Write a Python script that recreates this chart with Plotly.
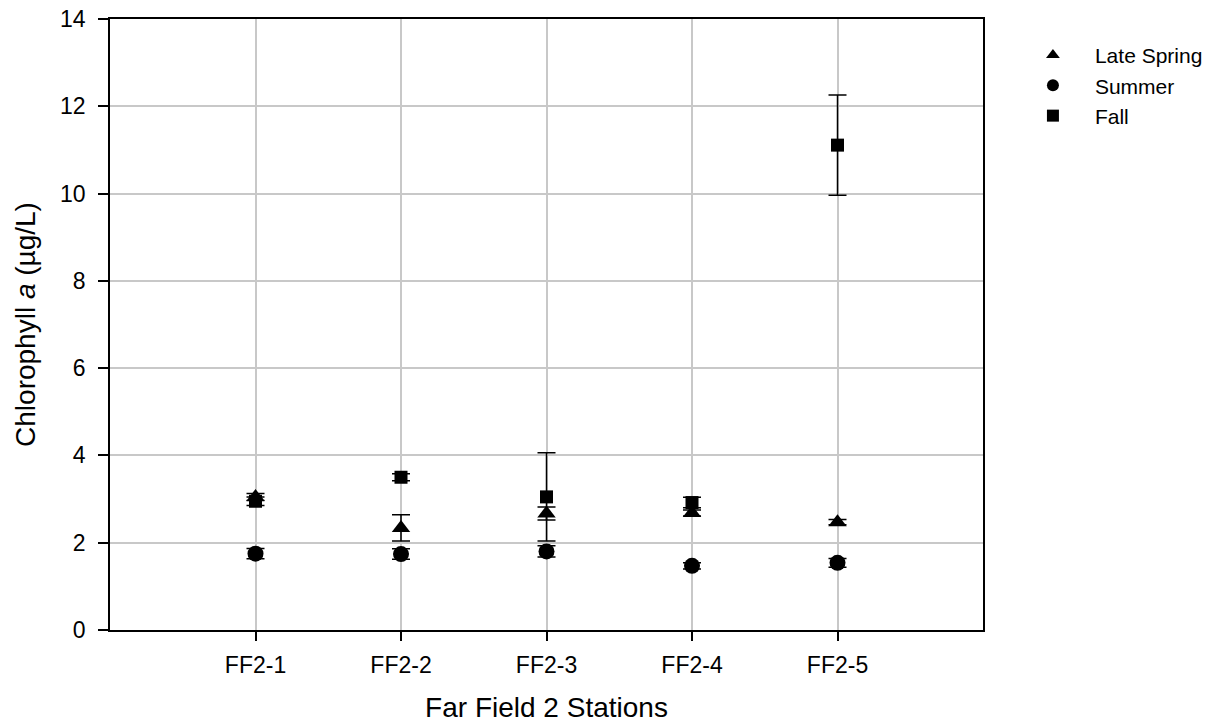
import plotly.graph_objects as go

stations = ["FF2-1", "FF2-2", "FF2-3", "FF2-4", "FF2-5"]

late_spring = [3.05, 2.34, 2.67, 2.68, 2.47]
late_spring_err = [0.08, 0.30, 0.15, 0.07, 0.06]

summer = [1.75, 1.74, 1.80, 1.47, 1.54]
summer_err = [0.12, 0.12, 0.13, 0.07, 0.10]

fall = [2.95, 3.50, 3.05, 2.92, 11.11]
fall_err = [0.10, 0.08, 1.01, 0.12, 1.15]

series = [
    ("Late Spring", late_spring, late_spring_err, "triangle-up", 16),
    ("Summer", summer, summer_err, "circle", 16),
    ("Fall", fall, fall_err, "square", 13),
]

fig = go.Figure()
for name, vals, errs, sym, size in series:
    fig.add_trace(go.Scatter(
        x=stations, y=vals, name=name, mode="markers",
        marker=dict(symbol=sym, size=size, color="black"),
        error_y=dict(type="data", array=errs, visible=True,
                     color="black", thickness=1.5, width=9),
    ))

font = "Liberation Sans, Arial, sans-serif"
fig.update_layout(
    width=1224, height=728,
    margin=dict(l=110, r=241, t=19, b=98, autoexpand=False),
    plot_bgcolor="white", paper_bgcolor="white",
    font=dict(family=font, size=22, color="black"),
    showlegend=True,
    legend=dict(x=1.032, y=0.974, xanchor="left", yanchor="top",
                font=dict(size=21), tracegroupgap=0, itemwidth=74,
                itemsizing="constant", bgcolor="rgba(0,0,0,0)"),
    xaxis=dict(
        type="category", range=[-1, 5], automargin=False,
        ticklabeloverflow="allow",
        showline=True, linecolor="black", linewidth=1.5, mirror=True,
        ticks="outside", ticklen=9, tickwidth=1.5, tickcolor="black",
        showgrid=True, gridcolor="#c8c8c8", gridwidth=1.5,
        tickfont=dict(size=23), ticklabelstandoff=5,
        title=dict(text="Far Field 2 Stations", font=dict(size=28), standoff=20),
    ),
    yaxis=dict(
        range=[0, 14], dtick=2, automargin=False,
        ticklabeloverflow="allow",
        showline=True, linecolor="black", linewidth=1.5, mirror=True,
        ticks="outside", ticklen=10, tickwidth=1.5, tickcolor="black",
        showgrid=True, gridcolor="#c8c8c8", gridwidth=1.5,
        zeroline=False,
        tickfont=dict(size=23), ticklabelstandoff=8,
        title=dict(text="Chlorophyll <i>a</i> (µg/L)", font=dict(size=28), standoff=16),
    ),
)

fig.write_html("out.html",
               config={"displayModeBar": False},
               post_script="document.body.style.margin='0';document.body.style.overflow='hidden';")
